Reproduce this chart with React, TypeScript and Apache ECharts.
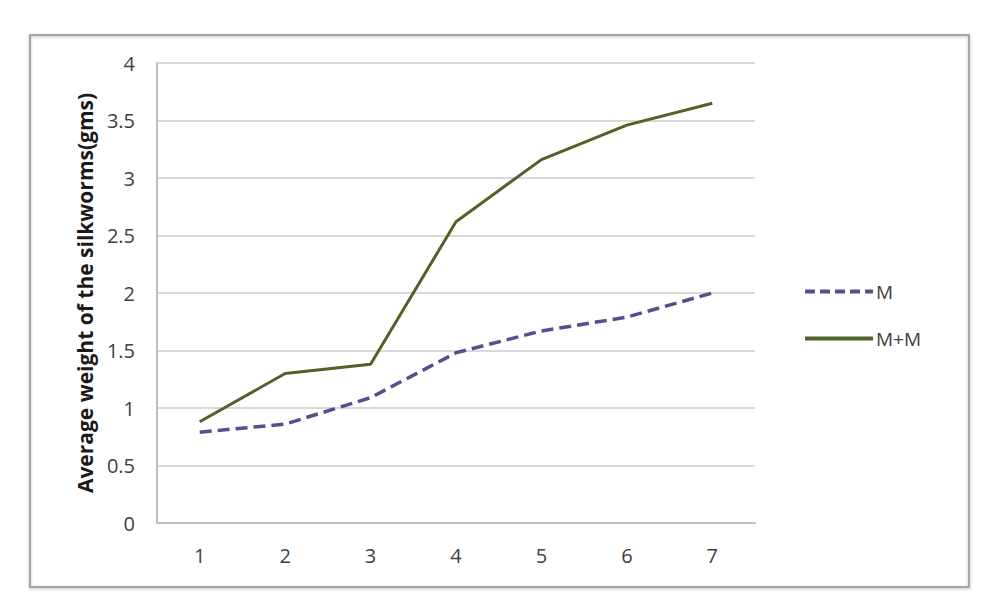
import React, { useEffect, useRef } from "react";
import * as echarts from "echarts";

const categories = ["1", "2", "3", "4", "5", "6", "7"];
const seriesM = [0.79, 0.86, 1.09, 1.48, 1.67, 1.79, 2.0];
const seriesMM = [0.88, 1.3, 1.38, 2.62, 3.16, 3.46, 3.65];
const yTicks = { min: 0, max: 4, interval: 0.5 };
const yTitle = "Average weight of the silkworms(gms)";

export default function App() {
  const ref = useRef<HTMLDivElement>(null);
  useEffect(() => {
    document.body.style.margin = "0";
    const chart = echarts.init(ref.current!, null, { renderer: "svg" });
    const font = "'Open Sans', 'DejaVu Sans', sans-serif";
    chart.setOption({
      animation: false,
      backgroundColor: "#ffffff",
      textStyle: { fontFamily: font },
      graphic: [
        {
          type: "rect",
          shape: { x: 30, y: 35, width: 939, height: 552 },
          style: { fill: "none", stroke: "#a6a6a6", lineWidth: 2, shadowBlur: 3, shadowColor: "rgba(0,0,0,0.25)", shadowOffsetY: 1 },
          z: -1,
        },
      ],
      grid: { left: 157, right: 233, top: 63, bottom: 92 },
      legend: {
        orient: "vertical",
        left: 798,
        top: 277,
        itemWidth: 68,
        itemHeight: 14,
        itemGap: 28,
        itemStyle: { opacity: 0 },
        textStyle: { fontSize: 19, color: "#404040", fontFamily: font, padding: [0, 0, 0, -2] },
        data: [
          { name: "M", lineStyle: { width: 4, type: [10, 5], color: "#5f4a8b" } },
          { name: "M+M", lineStyle: { width: 4, color: "#4f6228" } },
        ],
      },
      xAxis: {
        type: "category",
        data: categories,
        boundaryGap: true,
        axisLine: { lineStyle: { color: "#bfbfbf", width: 2 } },
        axisTick: { show: false },
        axisLabel: { color: "#404040", fontSize: 20, margin: 22, fontFamily: font },
      },
      yAxis: {
        type: "value",
        min: yTicks.min,
        max: yTicks.max,
        interval: yTicks.interval,
        name: yTitle,
        nameLocation: "middle",
        nameGap: 61,
        nameTextStyle: { fontSize: 21, fontWeight: "bold", color: "#1a1a1a", fontFamily: font },
        axisLine: { show: true, lineStyle: { color: "#bfbfbf", width: 2 } },
        axisTick: { show: false },
        axisLabel: { color: "#404040", fontSize: 20, margin: 22, fontFamily: font },
        splitLine: { lineStyle: { color: "#d9d9d9", width: 2 } },
      },
      series: [
        {
          name: "M",
          type: "line",
          data: seriesM,
          symbol: "none",
          lineStyle: { color: "#5f4a8b", width: 3.5, type: [12, 6] },
          itemStyle: { color: "#5f4a8b" },
        },
        {
          name: "M+M",
          type: "line",
          data: seriesMM,
          symbol: "none",
          lineStyle: { color: "#4f6228", width: 3 },
          itemStyle: { color: "#4f6228" },
        },
      ],
    });
    return () => chart.dispose();
  }, []);
  return <div ref={ref} style={{ width: 988, height: 615 }} />;
}
